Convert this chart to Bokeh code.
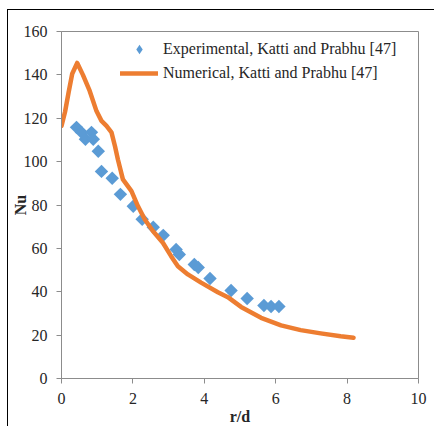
import math
from bokeh.plotting import figure
from bokeh.models import SingleIntervalTicker, Range1d, Legend, LegendItem
from bokeh.embed import file_html
from bokeh.resources import INLINE

# Experimental Nusselt number vs r/d
exp_x = [0.42, 0.56, 0.67, 0.84, 0.89, 1.03, 1.12, 1.42, 1.65, 2.01, 2.26, 2.57,
         2.85, 3.21, 3.30, 3.72, 3.83, 4.16, 4.75, 5.20, 5.67, 5.87, 6.09]
exp_y = [115.8, 113.5, 110.3, 113.5, 110.3, 104.8, 95.5, 92.3, 84.9, 79.4, 73.4, 69.7,
         66.0, 59.5, 57.2, 52.6, 51.2, 46.1, 40.6, 36.9, 33.7, 33.2, 33.2]

# Numerical prediction
num_x = [0.0, 0.1, 0.2, 0.3, 0.44, 0.6, 0.79, 0.98, 1.12, 1.26, 1.4, 1.5, 1.58,
         1.72, 1.96, 2.14, 2.33, 2.56, 2.84, 3.07, 3.26, 3.54, 3.91, 4.38, 4.66,
         5.03, 5.59, 6.15, 6.7, 7.26, 7.82, 8.18]
num_y = [116.4, 123.0, 132.0, 140.5, 145.5, 140.0, 132.6, 123.3, 118.8, 116.5, 113.5,
         107.0, 101.0, 91.8, 86.4, 79.5, 73.4, 68.0, 62.6, 56.4, 51.8, 48.0, 44.2,
         39.8, 37.5, 33.0, 28.0, 24.5, 22.3, 20.8, 19.5, 18.8]

exp_label = "Experimental, Katti and Prabhu [47]"
num_label = "Numerical, Katti and Prabhu [47]"

SERIF = "Liberation Serif"
AXIS_GRAY = "#8c8c8c"
TEXT = "#262626"
BLUE = "#5b9bd5"
ORANGE = "#ed7d31"

p = figure(width=427, height=417, output_backend="svg", toolbar_location=None,
           x_range=Range1d(0, 10), y_range=Range1d(0, 160),
           min_border_left=52, min_border_right=17, min_border_top=21,
           min_border_bottom=48)
p.margin = (9, 0, 0, 7)
p.styles = {"border-left": "1.5px solid black", "border-top": "1.5px solid black"}

p.xgrid.visible = False
p.ygrid.visible = False
p.outline_line_color = AXIS_GRAY
p.outline_line_width = 1
p.background_fill_color = "white"
p.border_fill_color = "white"

p.xaxis.ticker = SingleIntervalTicker(interval=2)
p.yaxis.ticker = SingleIntervalTicker(interval=20)
for ax in (p.xaxis[0], p.yaxis[0]):
    ax.axis_line_color = AXIS_GRAY
    ax.major_tick_line_color = AXIS_GRAY
    ax.major_tick_in = 0
    ax.major_tick_out = 5
    ax.minor_tick_line_color = None
    ax.major_label_text_font = SERIF
    ax.major_label_text_font_size = "16px"
    ax.major_label_text_color = TEXT
    ax.major_label_standoff = 9
    ax.axis_label_text_font = SERIF
    ax.axis_label_text_font_style = "bold"
    ax.axis_label_text_font_size = "16px"
    ax.axis_label_text_color = TEXT
p.xaxis.axis_label = "r/d"
p.yaxis.axis_label = "Nu"
p.xaxis.axis_label_standoff = 1
p.yaxis.axis_label_standoff = -8

# measured points: a narrow diamond core (also the legend key) under
# squares turned by 45 degrees, which give the full diamond shape
core = p.scatter(exp_x, exp_y, marker="diamond", size=11,
                 fill_color=BLUE, line_color=None)
p.scatter(exp_x, exp_y, marker="square", size=9.5, angle=math.pi / 4,
          fill_color=BLUE, line_color=None)
ln = p.line(num_x, num_y, line_color=ORANGE, line_width=4.5,
            line_join="round", line_cap="round")

lg = Legend(items=[LegendItem(label=exp_label, renderers=[core]),
                   LegendItem(label=num_label, renderers=[ln])],
            location=(59, 293))
lg.border_line_color = None
lg.background_fill_alpha = 0
lg.padding = 0
lg.margin = 0
lg.spacing = 0
lg.glyph_width = 38
lg.glyph_height = 24
lg.label_height = 24
lg.label_standoff = 5
lg.label_text_font = SERIF
lg.label_text_font_size = "16px"
lg.label_text_color = TEXT
p.add_layout(lg)

open("out.html", "w").write(file_html(p, INLINE))
